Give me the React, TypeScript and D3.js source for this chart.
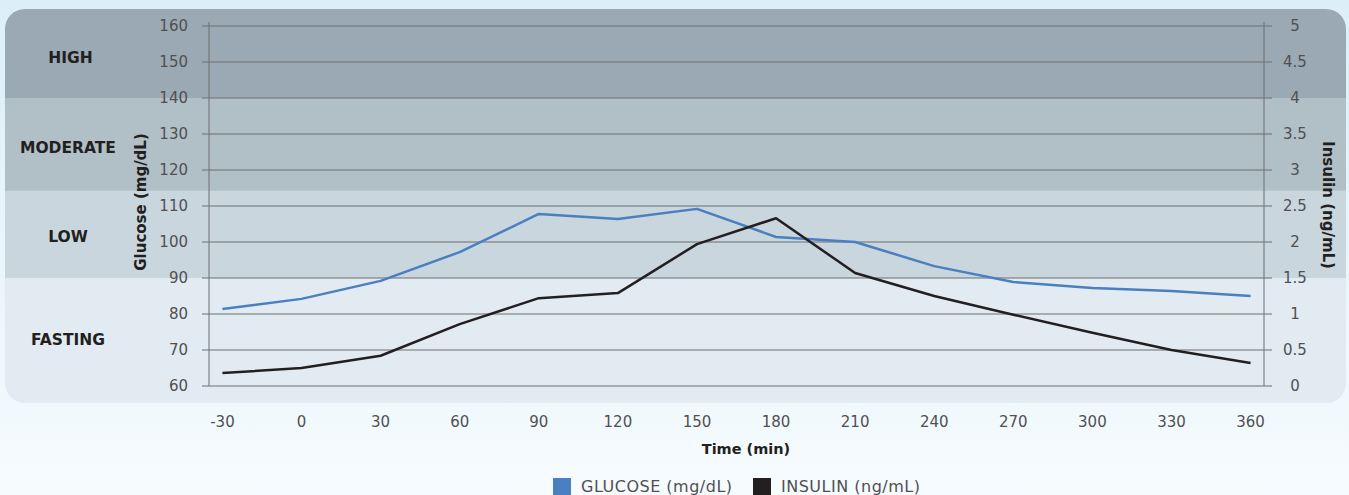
import React from "react";
import * as d3 from "d3";

const times = ["-30", "0", "30", "60", "90", "120", "150", "180", "210", "240", "270", "300", "330", "360"];
const glucose = [81.4, 84.2, 89.2, 97.2, 107.8, 106.4, 109.2, 101.4, 100, 93.3, 88.9, 87.2, 86.4, 85];
const insulin = [0.18, 0.25, 0.42, 0.86, 1.22, 1.29, 1.97, 2.33, 1.57, 1.25, 0.99, 0.74, 0.5, 0.32];
const glucoseTicks = [60, 70, 80, 90, 100, 110, 120, 130, 140, 150, 160];
const insulinTicks = [0, 0.5, 1, 1.5, 2, 2.5, 3, 3.5, 4, 4.5, 5];
const bandNames = ["HIGH", "MODERATE", "LOW", "FASTING"];
const bandEdges = [null, 140, 114.2, 90, null];
const bandColors = ["#9aa9b3", "#b1bfc7", "#c9d6de", "#e1ebf1"];

const W = 1349, H = 495;
const FONT = "'DejaVu Sans', Verdana, sans-serif";

export default function App() {
  const plotL = 209, plotR = 1264;
  const panel = { x: 5, y: 9, w: 1341, h: 394, r: 20 };
  const x = d3.scalePoint<string>().domain(times).range([plotL, plotR]).padding(0.17);
  const yG = d3.scaleLinear().domain([60, 160]).range([386, 26]);
  const yI = d3.scaleLinear().domain([0, 5]).range([386, 26]);
  const gLine = d3.line<number>().x((_, i) => x(times[i])!).y((d) => yG(d));
  const iLine = d3.line<number>().x((_, i) => x(times[i])!).y((d) => yI(d));

  const bandY = (i: number) => {
    const top = bandEdges[i] == null ? panel.y : yG(bandEdges[i] as number);
    const bot = bandEdges[i + 1] == null ? panel.y + panel.h : yG(bandEdges[i + 1] as number);
    return [top, bot];
  };
  const bandLabelY = [57.5, 147.5, 236.5, 339.5];
  const bandLabelX = [70.5, 68, 68, 68];
  const tickColor = "#505052";

  return (
    <div style={{ position: "fixed", left: 0, top: 0, width: W, height: H }}>
      <svg width={W} height={H} style={{ display: "block" }}>
        <defs>
          <linearGradient id="bg" x1="0" y1="0" x2="0" y2="1">
            <stop offset="0" stopColor="#dceff9" />
            <stop offset="1" stopColor="#f6fbfe" />
          </linearGradient>
          <clipPath id="panelClip">
            <rect x={panel.x} y={panel.y} width={panel.w} height={panel.h} rx={panel.r} ry={panel.r} />
          </clipPath>
        </defs>
        <rect x={0} y={0} width={W} height={H} fill="url(#bg)" />
        <g clipPath="url(#panelClip)">
          {bandNames.map((n, i) => {
            const [t, b] = bandY(i);
            return <rect key={n} x={panel.x} y={t} width={panel.w} height={b - t} fill={bandColors[i]} />;
          })}
        </g>
        {bandNames.map((n, i) => (
          <text key={n} x={bandLabelX[i]} y={bandLabelY[i]} textAnchor="middle" dominantBaseline="central"
            fontFamily={FONT} fontWeight={700} fontSize={15.5} fill="#231f20">{n}</text>
        ))}
        {glucoseTicks.map((t) => (
          <g key={t}>
            <line x1={202} x2={1272} y1={yG(t)} y2={yG(t)} stroke="#6d6e71" strokeWidth={1} />
            <text x={188} y={yG(t)} textAnchor="end" dominantBaseline="central" fontFamily={FONT}
              fontSize={15} fill={tickColor}>{t}</text>
          </g>
        ))}
        {insulinTicks.map((t) => (
          <text key={t} x={1295} y={yI(t)} textAnchor="middle" dominantBaseline="central" fontFamily={FONT}
            fontSize={15} fill={tickColor}>{t}</text>
        ))}
        <line x1={plotL} x2={plotL} y1={yG(160) - 4} y2={yG(60)} stroke="#6d6e71" strokeWidth={1} />
        <line x1={plotR} x2={plotR} y1={yG(160) - 4} y2={yG(60)} stroke="#6d6e71" strokeWidth={1} />
        <text transform={`translate(141,${202}) rotate(-90)`} textAnchor="middle" dominantBaseline="central"
          fontFamily={FONT} fontWeight={700} fontSize={15} fill="#231f20">Glucose (mg/dL)</text>
        <text transform={`translate(1328,${205}) rotate(90)`} textAnchor="middle" dominantBaseline="central"
          fontFamily={FONT} fontWeight={700} fontSize={15} fill="#231f20">Insulin (ng/mL)</text>
        <path d={gLine(glucose)!} fill="none" stroke="#4a7fc1" strokeWidth={2.5} strokeLinejoin="round" />
        <path d={iLine(insulin)!} fill="none" stroke="#231f20" strokeWidth={2.5} strokeLinejoin="round" />
        {times.map((t) => (
          <text key={t} x={x(t)} y={422} textAnchor="middle" dominantBaseline="central" fontFamily={FONT}
            fontSize={15} fill={tickColor}>{t}</text>
        ))}
        <text x={746} y={449} textAnchor="middle" dominantBaseline="central" fontFamily={FONT}
          fontWeight={700} fontSize={14.5} fill="#231f20">Time (min)</text>
        <rect x={553} y={478} width={18} height={17} fill="#4a7fc1" />
        <text x={581} y={492} fontFamily={FONT} fontSize={16} letterSpacing={0.5} fill={tickColor}>GLUCOSE (mg/dL)</text>
        <rect x={753} y={478} width={18} height={17} fill="#231f20" />
        <text x={781} y={492} fontFamily={FONT} fontSize={16} letterSpacing={0.5} fill={tickColor}>INSULIN (ng/mL)</text>
      </svg>
    </div>
  );
}
